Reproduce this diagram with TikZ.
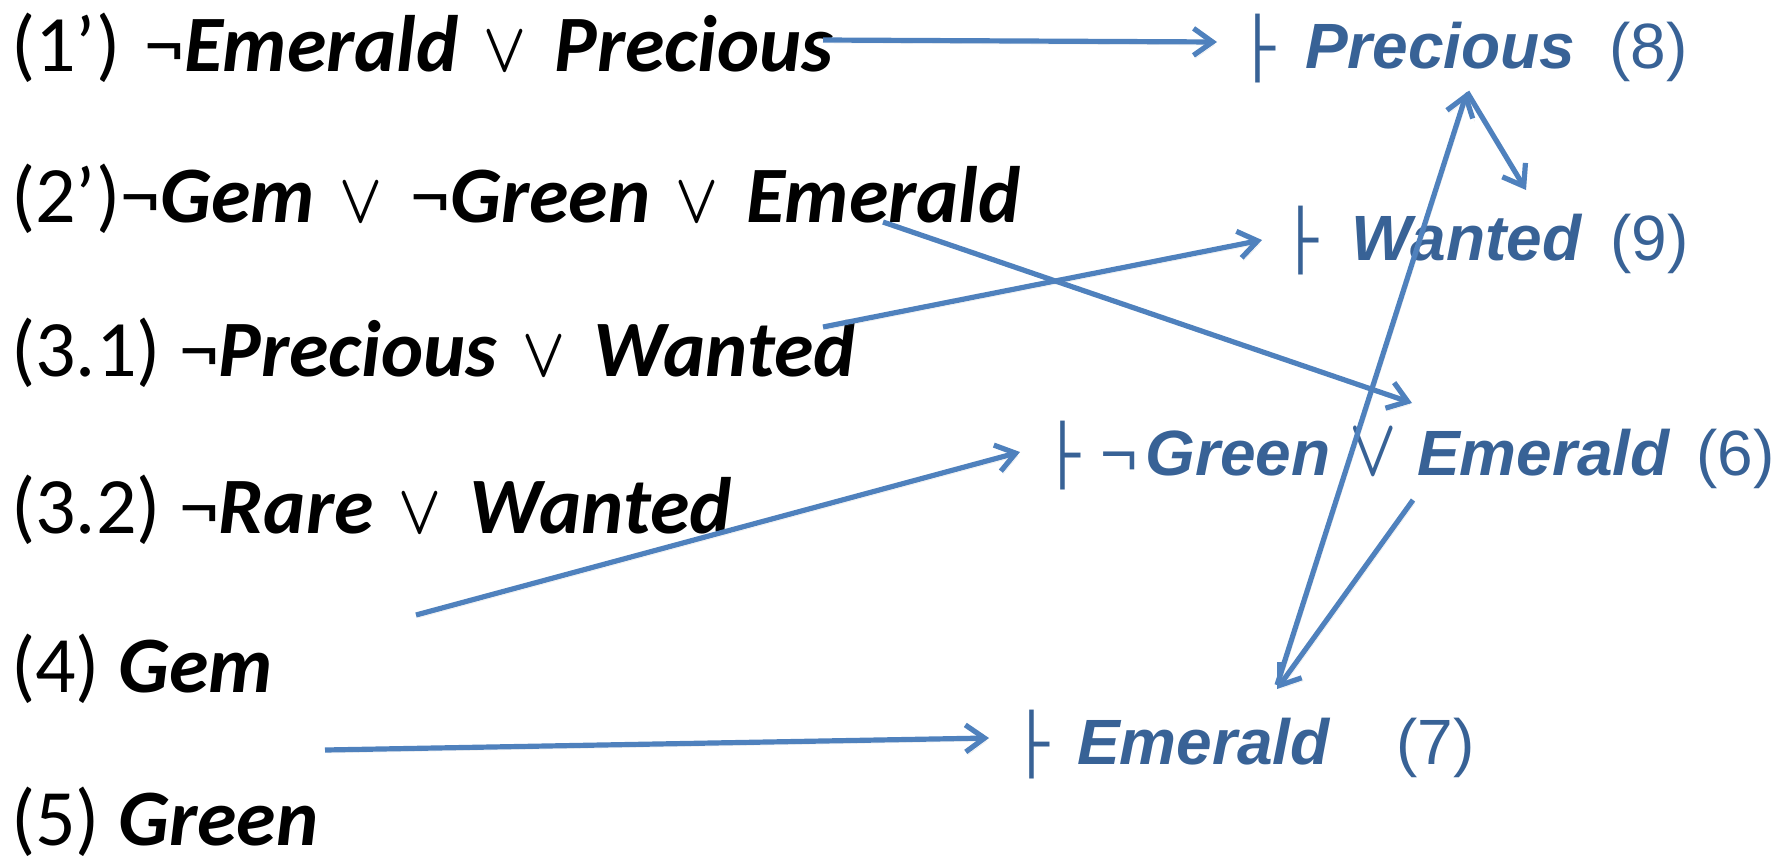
\documentclass[tikz,border=0pt]{standalone}
\usepackage{graphicx}
\usepackage{fontspec}
\setmainfont{Carlito}
\newfontfamily\arialf{Liberation Sans}
\newfontfamily\dejavu{DejaVu Sans}
\usetikzlibrary{arrows.meta}
\definecolor{lineblue}{RGB}{79,129,189}
\definecolor{textblue}{RGB}{56,98,150}
\newcommand\bi[1]{\textbf{\textit{#1}}}
\newcommand\orl{\hspace{25pt}{\fontsize{10}{12}\selectfont\scalebox{5.6}[7.0]{\boldmath$\vee$}}\hspace{28pt}}
\newcommand\orr{\hspace{19pt}{\fontsize{10}{12}\selectfont\scalebox{6.2}[8.2]{\boldmath$\vee$}}\hspace{20pt}}
\tikzset{
 lhs/.style={anchor=base west, inner sep=0pt, font=\fontsize{80}{84}\selectfont},
 rhs/.style={anchor=base west, inner sep=0pt, text=textblue, font=\arialf\fontsize{64}{70}\selectfont},
 tsy/.style={anchor=base west, inner sep=0pt, text=textblue, font=\dejavu\fontsize{58}{60}\selectfont},
 conn/.style={draw=lineblue, line width=5.2pt,
   -{Straight Barb[length=19pt,width=27pt,line width=5.2pt]},
   preaction={draw=black!40, opacity=0.22, transform canvas={shift={(2pt,-3pt)}}}},
}
\begin{document}
\begin{tikzpicture}[x=1pt,y=-1pt]
\useasboundingbox (0,0) rectangle (1787,863);
% left premises
\node[lhs] (c1) at (11,71) {(1’)\hspace{24pt}¬\bi{Emerald}\orl\bi{Precious}};
\node[lhs] (c2) at (11,222) {(2’)¬\bi{Gem}\orl¬\bi{Green}\orl\bi{Emerald}};
\node[lhs] (c31) at (11,376) {(3.1) ¬\bi{Precious}\orl\bi{Wanted}};
\node[lhs] (c32) at (11,533) {(3.2) ¬\bi{Rare}\orl\bi{Wanted}};
\node[lhs] (c4) at (11,692) {(4) \bi{Gem}};
\node[lhs] (c5) at (11,845) {(5) \bi{Green}};
% right derivations
\node[tsy] (t8) at (1240,68) {├};
\node[rhs] (r8) at (1305,68) {\bi{Precious}};
\node[rhs] (n8) at (1609,68) {(8)};
\node[tsy] (t9) at (1283,260) {├};
\node[rhs] (r9) at (1351,260) {\bi{Wanted}};
\node[rhs] (n9) at (1610,260) {(9)};
\node[tsy] (t6) at (1045,475) {├};
\node[rhs] (r6) at (1100,475) {¬\kern8pt\bi{Green}\orr\bi{Emerald}};
\node[rhs] (n6) at (1696,475) {(6)};
\node[tsy] (t7) at (1014,764) {├};
\node[rhs] (r7) at (1077,764) {\bi{Emerald}};
\node[rhs] (n7) at (1396,764) {(7)};
% connector end points
\coordinate (a1s) at (823,40);  \coordinate (a1e) at (1217,42);
\coordinate (a2s) at (883,222); \coordinate (a2e) at (1412,403);
\coordinate (a3s) at (823,327); \coordinate (a3e) at (1262,240);
\coordinate (a4s) at (416,615); \coordinate (a4e) at (1020,452);
\coordinate (a5s) at (325,750); \coordinate (a5e) at (989,738);
\coordinate (a6s) at (1413,500);\coordinate (a6e) at (1277,689);
\coordinate (a7s) at (1277,685);\coordinate (a7e) at (1467,92);
\coordinate (a8e) at (1526,190);
\draw[conn] (a1s) -- (a1e);
\draw[conn] (a2s) -- (a2e);
\draw[conn] (a3s) -- (a3e);
\draw[conn] (a4s) -- (a4e);
\draw[conn] (a5s) -- (a5e);
\draw[conn] (a6s) -- (a6e);
\draw[conn] (a7s) -- (a7e);
\draw[conn] (a7e) -- (a8e);
\end{tikzpicture}
\end{document}
